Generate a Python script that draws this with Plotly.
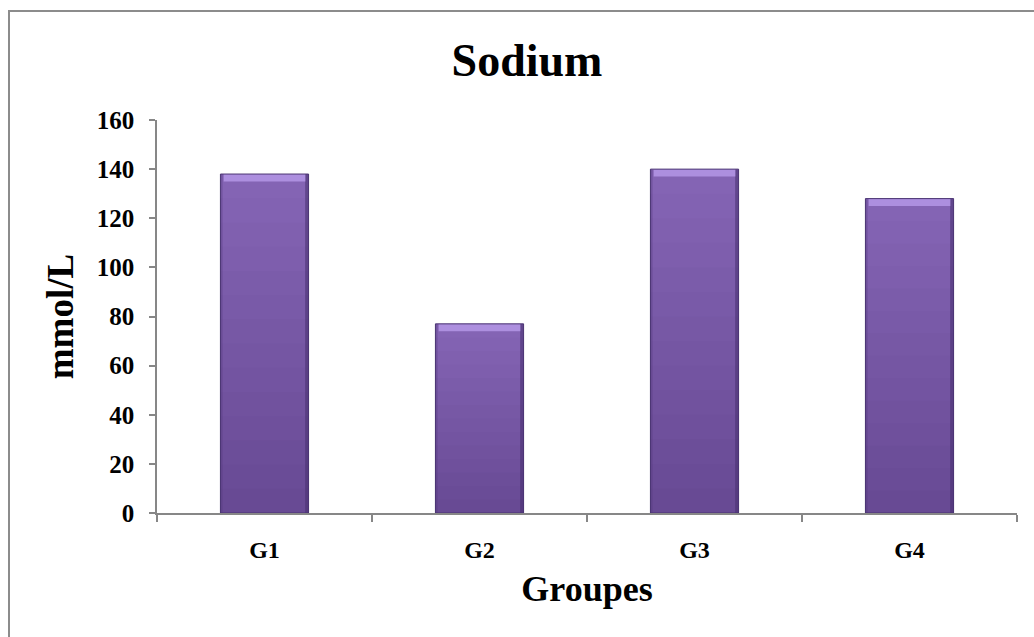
import plotly.graph_objects as go

# Serum sodium by group
groups = ["G1", "G2", "G3", "G4"]
sodium = [138, 77, 140, 128]
y_ticks = [0, 20, 40, 60, 80, 100, 120, 140, 160]

W, H = 1034, 637
L, R, T, B = 157, 17, 120, 124
BAR_W = 0.41
SERIF = "Liberation Serif"

fig = go.Figure()

# body of each bar: a soft vertical gradient, drawn as nested bars from
# the full height down so that each shorter one paints over the lower part
n_steps = 14
top_rgb = (0x84, 0x64, 0xB4)
bot_rgb = (0x66, 0x48, 0x92)
for i in range(n_steps):
    frac = (n_steps - i) / n_steps
    t = frac
    c = tuple(round(bot_rgb[k] + (top_rgb[k] - bot_rgb[k]) * t) for k in range(3))
    fig.add_trace(go.Bar(
        x=groups,
        y=[v * frac for v in sodium],
        width=BAR_W,
        marker=dict(color="rgb(%d,%d,%d)" % c, line=dict(width=0)),
        hoverinfo="skip",
        showlegend=False,
    ))

# darker side edges
fig.add_trace(go.Bar(
    x=groups, y=sodium, width=0.016, offset=BAR_W / 2 - 0.016,
    marker=dict(color="rgba(70,45,110,0.55)", line=dict(width=0)),
    hoverinfo="skip", showlegend=False,
))
fig.add_trace(go.Bar(
    x=groups, y=sodium, width=0.010, offset=-BAR_W / 2,
    marker=dict(color="rgba(80,55,120,0.35)", line=dict(width=0)),
    hoverinfo="skip", showlegend=False,
))

# bevel highlight along the top
bevel = 3.0
fig.add_trace(go.Bar(
    x=groups, y=[bevel] * len(sodium), base=[v - bevel for v in sodium],
    width=BAR_W - 0.03,
    marker=dict(color="rgba(180,150,230,0.85)", line=dict(width=0)),
    hoverinfo="skip", showlegend=False,
))

# outline
fig.add_trace(go.Bar(
    x=groups, y=sodium, width=BAR_W,
    marker=dict(color="rgba(0,0,0,0)", line=dict(color="#4b3573", width=1)),
    hovertemplate="%{x}: %{y} mmol/L<extra></extra>",
    showlegend=False,
))

axis_grey = "#878787"

fig.update_layout(
    width=W, height=H,
    margin=dict(l=L, r=R, t=T, b=B),
    paper_bgcolor="white", plot_bgcolor="white",
    barmode="overlay",
    title=dict(
        text="<b>Sodium</b>",
        font=dict(family=SERIF, size=46, color="black"),
        x=527 / W, xanchor="center", xref="container",
        y=1 - 60 / H, yanchor="middle", yref="container",
    ),
    xaxis=dict(
        type="category",
        range=[-0.5, 3.5],
        showline=True, linecolor=axis_grey, linewidth=1.5,
        ticks="outside", tickson="boundaries", ticklen=7, tickcolor=axis_grey, tickwidth=1.5,
        tickfont=dict(family=SERIF, size=24, color="black", weight="bold"),
        ticklabelstandoff=14,
        showgrid=False, zeroline=False,
        title=dict(text="<b>Groupes</b>", font=dict(family=SERIF, size=36, color="black"), standoff=14),
    ),
    yaxis=dict(
        range=[0, 160],
        tickvals=y_ticks,
        showline=True, linecolor=axis_grey, linewidth=1.5,
        ticks="outside", ticklen=6, tickcolor=axis_grey, tickwidth=1.5,
        tickfont=dict(family=SERIF, size=25, color="black", weight="bold"),
        ticklabelstandoff=10,
        showgrid=False, zeroline=False,
        title=dict(text="<b>mmol/L</b>", font=dict(family=SERIF, size=37, color="black"), standoff=12),
    ),
    shapes=[dict(
        type="rect", xref="paper", yref="paper",
        x0=(9 - L) / (W - L - R), x1=(1045 - L) / (W - L - R),
        y0=(H - B - 648) / (H - T - B), y1=(H - B - 11) / (H - T - B),
        line=dict(color="#8c8c8c", width=2), fillcolor="rgba(0,0,0,0)", layer="below",
    )],
)

fig.write_html("out.html")
